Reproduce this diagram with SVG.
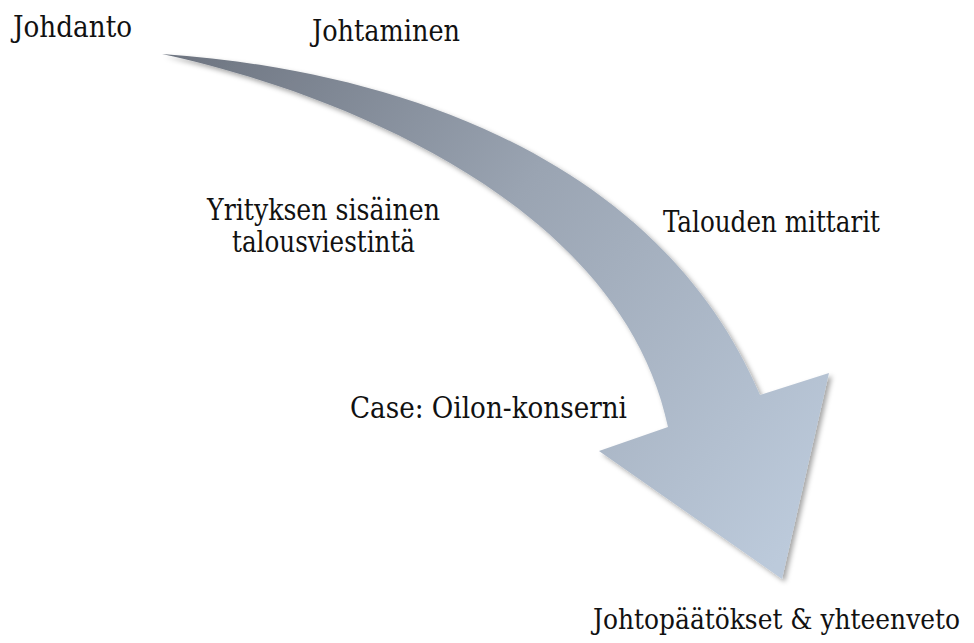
<svg xmlns="http://www.w3.org/2000/svg" width="974" height="643" viewBox="0 0 974 643">
  <style>
    text { font-family: "DejaVu Serif", serif; font-stretch: condensed; font-size: 29px; fill: #111; }
    .last { font-size: 28px; }
  </style>
  <defs>
    <linearGradient id="arrowFill" gradientUnits="userSpaceOnUse" x1="170" y1="60" x2="780" y2="560">
      <stop offset="0" stop-color="#6d7480"/>
      <stop offset="0.45" stop-color="#9aa4b2"/>
      <stop offset="1" stop-color="#bccadb"/>
    </linearGradient>
    <filter id="softShadow" x="-10%" y="-10%" width="120%" height="120%">
      <feDropShadow dx="3" dy="3" stdDeviation="2.5" flood-color="#000" flood-opacity="0.35"/>
    </filter>
  </defs>

  <!-- curved flow arrow -->
  <g id="connectors">
    <path id="flow-arrow" fill="url(#arrowFill)" filter="url(#softShadow)"
          d="M162,54 C400,70 660,160 760,395 L829,373 L782,579 L599,451 L668,427 C620,200 330,90 162,54 Z"/>
  </g>

  <g id="johdanto"><text x="13" y="37" textLength="119" lengthAdjust="spacingAndGlyphs">Johdanto</text></g>
  <g id="johtaminen"><text x="312" y="41" textLength="148" lengthAdjust="spacingAndGlyphs">Johtaminen</text></g>
  <g id="sisainen">
    <text><tspan x="207" y="220" textLength="233" lengthAdjust="spacingAndGlyphs">Yrityksen sisäinen</tspan><tspan x="232" y="252" textLength="183" lengthAdjust="spacingAndGlyphs">talousviestintä</tspan></text>
  </g>
  <g id="mittarit"><text x="663" y="232" textLength="217" lengthAdjust="spacingAndGlyphs">Talouden mittarit</text></g>
  <g id="case"><text x="350" y="418" textLength="277" lengthAdjust="spacingAndGlyphs">Case: Oilon-konserni</text></g>
  <g id="johtopaatokset"><text class="last" x="593" y="629" textLength="367" lengthAdjust="spacingAndGlyphs">Johtopäätökset &amp; yhteenveto</text></g>
</svg>
